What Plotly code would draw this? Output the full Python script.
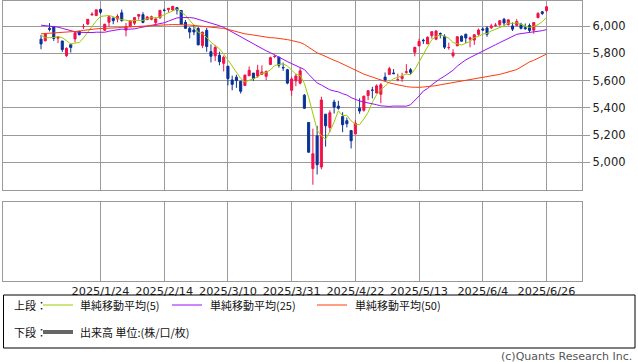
import plotly.graph_objects as go

# ---------------- data ----------------
dates = [
    "2025/1/2", "2025/1/3", "2025/1/6", "2025/1/7", "2025/1/8", "2025/1/10", "2025/1/13", "2025/1/14",
    "2025/1/15", "2025/1/16", "2025/1/17", "2025/1/21", "2025/1/22", "2025/1/23", "2025/1/24", "2025/1/27",
    "2025/1/28", "2025/1/29", "2025/1/30", "2025/1/31",
    "2025/2/3", "2025/2/4", "2025/2/5", "2025/2/6", "2025/2/7", "2025/2/10", "2025/2/11", "2025/2/12",
    "2025/2/13", "2025/2/14", "2025/2/18", "2025/2/19", "2025/2/20", "2025/2/21", "2025/2/24", "2025/2/25",
    "2025/2/26", "2025/2/27", "2025/2/28",
    "2025/3/3", "2025/3/4", "2025/3/5", "2025/3/6", "2025/3/7", "2025/3/10", "2025/3/11", "2025/3/12",
    "2025/3/13", "2025/3/14", "2025/3/17", "2025/3/18", "2025/3/19", "2025/3/20", "2025/3/21", "2025/3/24",
    "2025/3/25", "2025/3/26", "2025/3/27", "2025/3/28", "2025/3/31",
    "2025/4/1", "2025/4/2", "2025/4/3", "2025/4/4", "2025/4/7", "2025/4/8", "2025/4/9", "2025/4/10",
    "2025/4/11", "2025/4/14", "2025/4/15", "2025/4/16", "2025/4/17", "2025/4/21", "2025/4/22", "2025/4/23",
    "2025/4/24", "2025/4/25", "2025/4/28", "2025/4/29", "2025/4/30",
    "2025/5/1", "2025/5/2", "2025/5/5", "2025/5/6", "2025/5/7", "2025/5/8", "2025/5/9", "2025/5/12",
    "2025/5/13", "2025/5/14", "2025/5/15", "2025/5/16", "2025/5/19", "2025/5/20", "2025/5/21", "2025/5/22",
    "2025/5/23", "2025/5/27", "2025/5/28", "2025/5/29", "2025/5/30",
    "2025/6/2", "2025/6/3", "2025/6/4", "2025/6/5", "2025/6/6", "2025/6/9", "2025/6/10", "2025/6/11",
    "2025/6/12", "2025/6/13", "2025/6/16", "2025/6/17", "2025/6/18", "2025/6/20", "2025/6/23", "2025/6/24",
    "2025/6/25", "2025/6/26",
]

opens = [
    5903.26, 5891.07, 5982.81, 5993.26, 5910.66, 5890.12, 5782.45, 5863.64, 5905.21, 5961.05,
    5995.40, 6014.12, 6081.39, 6076.32, 6121.43, 5969.04, 6026.97, 6057.70, 6050.75, 6096.79,
    5969.65, 5998.14, 6020.45, 6072.22, 6083.13, 6046.40, 6049.32, 6025.08, 6060.59, 6115.52,
    6121.60, 6117.76, 6134.50, 6114.10, 6026.69, 5982.73, 5970.87, 5981.88, 5856.74,
    5968.33, 5811.98, 5781.43, 5785.87, 5726.01, 5705.37, 5603.65, 5624.84, 5594.45, 5563.85,
    5635.60, 5654.53, 5632.37, 5646.92, 5630.73, 5718.08, 5775.86, 5771.66, 5695.64, 5679.14, 5527.91,
    5597.53, 5580.76, 5492.74, 5292.14, 4953.79, 5193.57, 4965.28, 5353.15, 5255.56, 5441.96,
    5411.99, 5335.75, 5305.45, 5232.94, 5207.67, 5395.92, 5381.38, 5489.73, 5529.22, 5508.87, 5499.44,
    5625.14, 5645.02, 5655.32, 5605.88, 5614.16, 5659.91, 5679.02, 5807.19, 5854.06, 5895.69,
    5869.32, 5929.09, 5902.88, 5944.66, 5924.25, 5841.26, 5781.89, 5854.07, 5925.54, 5939.92, 5903.67,
    5896.68, 5938.56, 5978.15, 5985.67, 5987.06, 6004.60, 6009.91, 6049.38, 6009.90, 6000.56,
    6004.00, 6012.15, 5987.93, 6004.00, 5969.67, 6061.21, 6104.15, 6112.13,
]

highs = [
    5935.09, 5949.34, 6021.04, 6000.68, 5927.89, 5890.12, 5842.87, 5871.85, 5960.61, 5964.69,
    6014.96, 6051.51, 6100.81, 6118.73, 6128.18, 6017.17, 6074.54, 6062.83, 6086.64, 6120.91,
    6022.13, 6042.48, 6062.86, 6084.03, 6101.28, 6073.38, 6076.28, 6063.86, 6116.91, 6127.47,
    6129.63, 6147.43, 6134.50, 6114.82, 6043.65, 5992.65, 6009.82, 5993.69, 5959.40,
    5986.09, 5865.08, 5860.59, 5812.08, 5783.01, 5705.37, 5636.30, 5642.19, 5597.78, 5645.27,
    5703.52, 5654.53, 5715.33, 5711.15, 5670.84, 5775.14, 5786.95, 5772.51, 5732.28, 5685.89, 5627.56,
    5650.57, 5695.31, 5500.41, 5292.14, 5246.57, 5267.47, 5481.34, 5353.15, 5381.46, 5459.46,
    5450.41, 5367.24, 5328.31, 5232.94, 5309.60, 5469.69, 5489.40, 5528.11, 5553.66, 5571.95, 5581.84,
    5658.91, 5700.70, 5683.75, 5649.68, 5657.20, 5720.10, 5691.68, 5845.36, 5906.63, 5906.36,
    5924.35, 5958.62, 5968.61, 5953.06, 5939.00, 5878.08, 5829.51, 5924.33, 5930.00, 5943.13, 5922.14,
    5937.40, 5981.35, 5990.48, 5999.70, 6016.87, 6021.31, 6043.01, 6059.40, 6045.43, 6026.16,
    6050.83, 6023.25, 6018.25, 6018.20, 6028.81, 6101.71, 6108.51, 6146.52,
]

lows = [
    5829.53, 5888.66, 5960.01, 5890.68, 5874.78, 5809.41, 5773.01, 5805.43, 5879.98, 5930.36,
    5978.44, 6006.88, 6076.13, 6074.67, 6088.74, 5962.92, 5994.63, 6012.96, 6027.46, 6030.93,
    5923.93, 5990.87, 6007.06, 6046.83, 6019.96, 6044.84, 6042.34, 6003.00, 6051.00, 6107.62,
    6099.51, 6111.15, 6084.59, 6008.56, 5977.83, 5908.49, 5932.69, 5858.78, 5837.66,
    5810.91, 5732.59, 5742.35, 5711.64, 5666.29, 5564.02, 5528.41, 5546.09, 5504.65, 5563.85,
    5631.12, 5597.76, 5622.20, 5640.47, 5603.10, 5718.08, 5764.03, 5694.13, 5670.94, 5572.42, 5488.73,
    5558.52, 5571.48, 5390.83, 5069.90, 4835.04, 4910.42, 4948.43, 5115.27, 5220.77, 5358.02,
    5386.44, 5220.79, 5255.58, 5101.63, 5207.67, 5356.21, 5371.96, 5455.86, 5468.64, 5505.70, 5433.24,
    5597.35, 5644.50, 5646.81, 5593.88, 5590.06, 5650.21, 5644.00, 5777.71, 5852.84, 5868.32,
    5867.02, 5907.75, 5895.69, 5909.26, 5830.76, 5825.82, 5767.41, 5854.07, 5886.19, 5873.80, 5843.66,
    5861.43, 5929.00, 5966.11, 5921.20, 5978.63, 5994.18, 6000.26, 6002.32, 6003.88, 5963.21,
    6004.00, 5974.80, 5971.89, 5952.56, 5943.23, 6056.41, 6080.22, 6100.26,
]

closes = [
    5868.55, 5942.47, 5975.38, 5909.03, 5918.25, 5827.04, 5836.22, 5842.91, 5949.91, 5937.34,
    5996.66, 6049.24, 6086.37, 6118.71, 6101.24, 6012.28, 6067.70, 6039.31, 6071.17, 6040.53,
    5994.57, 6037.88, 6061.48, 6083.57, 6025.99, 6066.44, 6068.50, 6051.97, 6115.07, 6114.63,
    6129.58, 6144.15, 6117.52, 6013.13, 5983.25, 5955.25, 5956.06, 5861.57, 5954.50,
    5849.72, 5778.15, 5842.63, 5738.52, 5770.20, 5614.56, 5572.07, 5599.30, 5521.52, 5638.94,
    5675.12, 5614.66, 5675.29, 5662.89, 5667.56, 5767.57, 5776.65, 5712.20, 5693.31, 5580.94, 5611.85,
    5633.07, 5670.97, 5396.52, 5074.08, 5062.25, 4982.77, 5456.90, 5268.05, 5363.36, 5405.97,
    5396.63, 5275.70, 5282.70, 5158.20, 5287.76, 5375.86, 5484.77, 5525.21, 5528.75, 5560.83, 5569.06,
    5604.14, 5686.67, 5650.38, 5606.91, 5631.28, 5663.94, 5659.91, 5844.19, 5886.55, 5892.58,
    5916.93, 5958.38, 5963.60, 5940.46, 5844.61, 5842.01, 5802.82, 5921.54, 5888.55, 5912.17, 5911.69,
    5935.94, 5970.37, 5970.81, 5939.30, 6000.36, 6005.88, 6038.81, 6022.24, 6045.26, 5976.97,
    6033.11, 5982.72, 5980.87, 5967.84, 6025.17, 6092.18, 6092.16, 6141.02,
]

# closes before the visible window (2024/10/22 - 2024/12/31), used for moving averages
prior_closes = [
    5851.20, 5797.42, 5809.86, 5808.12, 5823.52, 5832.92, 5813.67, 5705.45,
    5728.80, 5712.69, 5782.76, 5929.04, 5973.10, 5995.54, 6001.35, 5983.99, 5985.38, 5949.17,
    5870.62, 5893.62, 5916.98, 5917.11, 5948.71, 5969.34, 5987.37, 6021.63, 5998.74, 6032.38,
    6047.15, 6049.88, 6086.49, 6075.11, 6090.27, 6052.85, 6034.91, 6084.19, 6051.25, 6051.09,
    6074.08, 6050.61, 5872.16, 5867.08, 5930.85, 5974.07, 6040.04, 6037.59, 5970.84, 5906.94, 5881.63,
]

tick_labels = ["2025/1/24", "2025/2/14", "2025/3/10", "2025/3/31", "2025/4/22", "2025/5/13", "2025/6/4", "2025/6/26"]
price_ticks = [5000, 5200, 5400, 5600, 5800, 6000]
ma_periods = [5, 25, 50]
ma_names = ["単純移動平均(5)", "単純移動平均(25)", "単純移動平均(50)"]

# ---------------- styling ----------------
W, H = 638, 362
RED = "#f0134a"
BLUE = "#0a3296"
MA_COLORS = ["#99cc00", "#9a10f5", "#ff3a0a"]
GRID = "#9a9a9a"
JP_FONT = "Noto Sans CJK JP"
NUM_FONT = "DejaVu Sans"


def fx(p):
    return p / W


def fy(p):
    return 1 - p / H


idx = list(range(len(dates)))
all_closes = prior_closes + closes
off = len(prior_closes)


def sma(n):
    out = []
    for i in range(len(closes)):
        seg = all_closes[off + i - n + 1: off + i + 1]
        out.append(sum(seg) / n)
    return out


fig = go.Figure()
fig.add_trace(go.Candlestick(
    x=idx, open=opens, high=highs, low=lows, close=closes,
    increasing=dict(line=dict(color=RED, width=1), fillcolor=RED),
    decreasing=dict(line=dict(color=BLUE, width=1), fillcolor=BLUE),
    whiskerwidth=0, showlegend=False, xaxis="x", yaxis="y",
    text=dates, hoverinfo="text+y",
))
for n, c, name in zip(ma_periods, MA_COLORS, ma_names):
    fig.add_trace(go.Scatter(
        x=idx, y=sma(n), mode="lines", line=dict(color=c, width=1),
        name=name, showlegend=False, xaxis="x", yaxis="y", hoverinfo="skip",
    ))
# empty volume panel
fig.add_trace(go.Scatter(x=[idx[0]], y=[-1], mode="markers", marker=dict(size=1, opacity=0),
                         showlegend=False, xaxis="x2", yaxis="y2", hoverinfo="skip"))

tick_idx = [dates.index(t) for t in tick_labels]
x_left, x_right = 3.3, 582.3
spacing = 4.2476
x0px = 100.5 - tick_idx[0] * spacing
xrange = [(x_left - x0px) / spacing, (x_right - x0px) / spacing]

# price axis range from pixel positions of gridlines (6000 at y=26, 5000 at y=162.3)
ppu = (162.3 - 26.0) / 1000.0
y_top = 6000 + (26.0 - 0.5) / ppu
y_bot = 5000 - (190.0 - 162.3) / ppu

common_x = dict(
    range=xrange, tickvals=tick_idx, showgrid=True, gridcolor=GRID, gridwidth=1,
    showline=True, linecolor=GRID, linewidth=1, mirror=True, zeroline=False, ticks="",
)

fig.update_layout(
    width=W, height=H, margin=dict(l=0, r=0, t=0, b=0),
    paper_bgcolor="white", plot_bgcolor="white", showlegend=False,
    xaxis=dict(domain=[fx(x_left), fx(x_right)], anchor="y", showticklabels=False,
               rangeslider=dict(visible=False), **common_x),
    yaxis=dict(domain=[fy(190), fy(0.5)], anchor="x", side="right", range=[y_bot, y_top],
               tickvals=price_ticks, tickformat=",", ticks="outside", ticklen=7, tickcolor=GRID,
               showgrid=True, gridcolor=GRID, showline=True, linecolor=GRID, mirror=True,
               zeroline=False, tickfont=dict(family=NUM_FONT, size=11.5, color="#222")),
    xaxis2=dict(domain=[fx(x_left), fx(x_right)], anchor="y2", ticktext=tick_labels,
                tickfont=dict(family=NUM_FONT, size=11.3, color="#222"), **common_x),
    yaxis2=dict(domain=[fy(280.7), fy(201.7)], anchor="x2", range=[0, 1], showgrid=False,
                showticklabels=False, showline=True, linecolor=GRID, mirror=True, zeroline=False),
)

shapes = [
    dict(type="rect", xref="paper", yref="paper", x0=fx(3.5), x1=fx(635), y0=fy(295), y1=fy(348),
         line=dict(color="black", width=1), fillcolor="rgba(0,0,0,0)"),
]
legend_line_x = [(43, 73), (172, 202), (317, 347)]
legend_text_x = [78, 208, 352.5]
for (a, b), c in zip(legend_line_x, MA_COLORS):
    shapes.append(dict(type="line", xref="paper", yref="paper", x0=fx(a), x1=fx(b), y0=fy(305), y1=fy(305),
                       line=dict(color=c, width=1)))
shapes.append(dict(type="line", xref="paper", yref="paper", x0=fx(43), x1=fx(73), y0=fy(332), y1=fy(332),
                   line=dict(color="#666666", width=4)))

annotations = [
    dict(text="上段：", x=fx(12), y=fy(305)),
    dict(text="下段：", x=fx(12), y=fy(332)),
    dict(text="出来高 単位:(株/口/枚)", x=fx(78), y=fy(332)),
]
for tx, name in zip(legend_text_x, ma_names):
    annotations.append(dict(text=name, x=fx(tx), y=fy(305)))
for a in annotations:
    a.update(xref="paper", yref="paper", xanchor="left", yanchor="middle", showarrow=False,
             font=dict(family=JP_FONT, size=11, color="#111"))
annotations.append(dict(text="(c)Quants Research Inc.", x=fx(634), y=fy(356), xref="paper", yref="paper",
                        xanchor="right", yanchor="middle", showarrow=False,
                        font=dict(family=NUM_FONT, size=11, color="#555")))

fig.update_layout(shapes=shapes, annotations=annotations)
fig.write_html("out.html", config={"displayModeBar": False},
               post_script="document.body.style.margin='0';document.body.style.padding='0';")
